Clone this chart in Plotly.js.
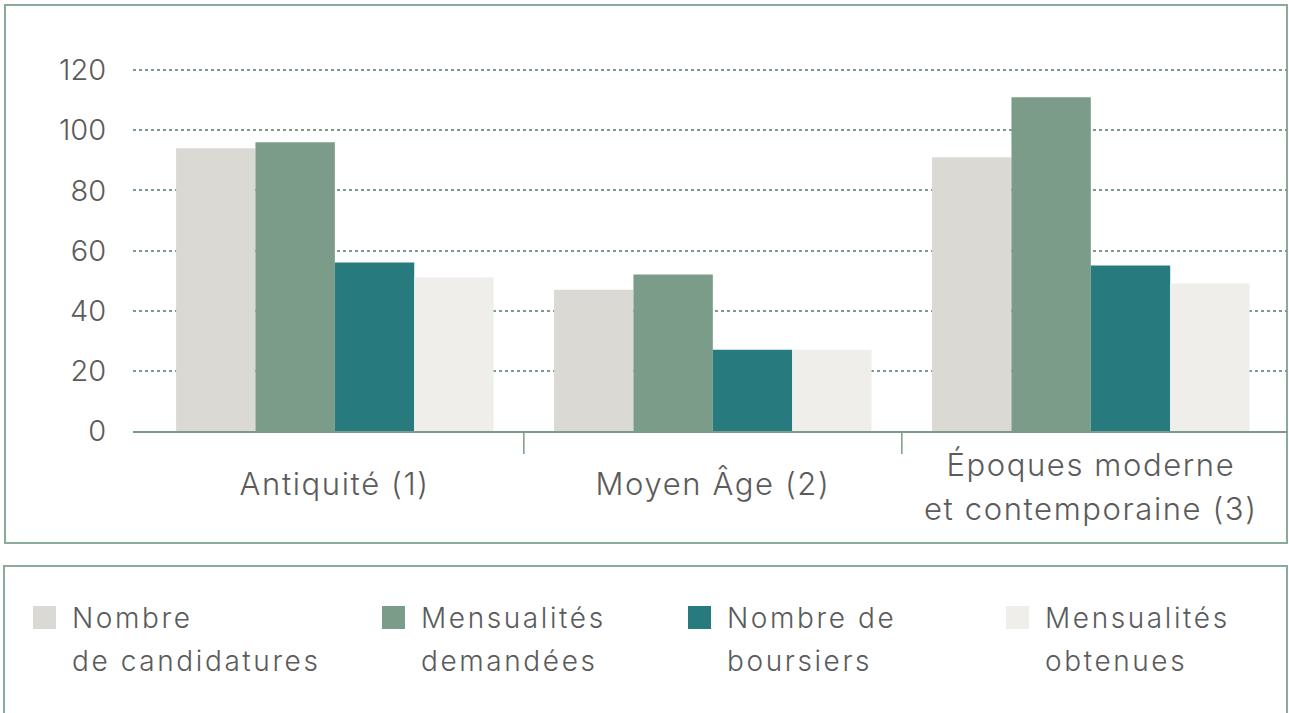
<!DOCTYPE html>
<html>
<head>
<meta charset="utf-8">
<script src="https://cdn.plot.ly/plotly-3.0.1.min.js"></script>
<style>
  html, body { margin: 0; padding: 0; background: #ffffff; }
  #chart { width: 1289px; height: 713px; }
  #chart g.annotation-text-g text { letter-spacing: 1.6px; }
</style>
</head>
<body>
<div id="chart"></div>
<script>
// ---- Data ----
const categories = ['Antiquité (1)', 'Moyen Âge (2)', 'Époques moderne et contemporaine (3)'];
const categoryLabels = ['Antiquité (1)', 'Moyen Âge (2)', 'Époques moderne<br>et contemporaine (3)'];
const seriesNames = [
  'Nombre<br>de candidatures',
  'Mensualités<br>demandées',
  'Nombre de<br>boursiers',
  'Mensualités<br>obtenues'
];
const candidatures = [94, 47, 91];
const mensualitesDemandees = [96, 52, 111];
const boursiers = [56, 27, 55];
const mensualitesObtenues = [51, 27, 49];
const yTicks = [0, 20, 40, 60, 80, 100, 120];

// ---- Styling ----
const colors = ['#dad9d4', '#7a9c88', '#277a7d', '#efeeea'];
const seriesValues = [candidatures, mensualitesDemandees, boursiers, mensualitesObtenues];
const legendIds = ['legend', 'legend2', 'legend3', 'legend4'];
const legendTextX = [72, 421, 727, 1045];
const textColor = '#5b5b5b';
const green = '#7a9c88';
const borderGreen = '#8aab98';
const FONT = 'Inter, "Open Sans", sans-serif';

// plot area in pixels: x 133..1287, y 40..431
const PL = 133, PR = 1287, PT = 40, PB = 431;
const px2paperX = p => (p - PL) / (PR - PL);
const px2paperY = p => (PB - p) / (PB - PT);

const traces = seriesValues.map((vals, i) => ({
  type: 'bar',
  x: categories,
  y: vals,
  name: seriesNames[i],
  marker: { color: colors[i], line: { width: 0 } },
  legend: legendIds[i],
  hoverinfo: 'skip'
}));

const layout = {
  width: 1289,
  height: 713,
  margin: { l: PL, r: 1289 - PR, t: PT, b: 713 - PB, pad: 0 },
  paper_bgcolor: '#ffffff',
  plot_bgcolor: 'rgba(0,0,0,0)',
  font: { family: FONT, color: textColor, size: 28, weight: 300 },
  barmode: 'group',
  bargap: 0.16,
  bargroupgap: 0,
  xaxis: {
    type: 'category',
    range: [-0.534, 2.519],
    showticklabels: false,
    showgrid: false,
    zeroline: false,
    showline: true,
    linecolor: green,
    linewidth: 1.5,
    ticks: '',
    fixedrange: true
  },
  yaxis: {
    range: [0, 130],
    tickvals: yTicks,
    ticktext: yTicks.map(String),
    tickfont: { family: FONT, size: 29, color: textColor, weight: 300 },
    ticks: 'outside',
    ticklen: 20,
    tickcolor: 'rgba(0,0,0,0)',
    showgrid: true,
    gridcolor: green,
    griddash: 'dot',
    gridwidth: 2,
    zeroline: false,
    showline: false,
    fixedrange: true
  },
  showlegend: true,
  shapes: [
    { type: 'rect', xref: 'paper', yref: 'paper',
      x0: px2paperX(5), x1: px2paperX(1287), y0: px2paperY(543), y1: px2paperY(5),
      line: { color: borderGreen, width: 2 }, fillcolor: 'rgba(0,0,0,0)', layer: 'below' },
    { type: 'rect', xref: 'paper', yref: 'paper',
      x0: px2paperX(4), x1: px2paperX(1287), y0: px2paperY(730), y1: px2paperY(566),
      line: { color: borderGreen, width: 2 }, fillcolor: 'rgba(0,0,0,0)', layer: 'below' },
    { type: 'line', xref: 'x', yref: 'paper', x0: 0.5, x1: 0.5, y0: 0, y1: px2paperY(454),
      line: { color: green, width: 1.5 } },
    { type: 'line', xref: 'x', yref: 'paper', x0: 1.5, x1: 1.5, y0: 0, y1: px2paperY(454),
      line: { color: green, width: 1.5 } }
  ],
  annotations: categories.map((c, i) => ({
    x: c, xref: 'x', y: px2paperY(i === 2 ? 484 : 483), yref: 'paper',
    text: categoryLabels[i], showarrow: false,
    xanchor: 'center', yanchor: 'middle', align: 'center',
    font: { family: FONT, size: 31, color: textColor, weight: 300 }
  }))
};

legendIds.forEach((id, i) => {
  layout[id] = {
    x: px2paperX(legendTextX[i] - 40), xanchor: 'left',
    y: px2paperY(592), yanchor: 'top',
    orientation: 'v',
    bgcolor: 'rgba(0,0,0,0)',
    borderwidth: 0,
    valign: 'top',
    font: { family: FONT, size: 28, color: textColor, weight: 300 },
    itemclick: false, itemdoubleclick: false
  };
});

Plotly.newPlot('chart', traces, layout, { displayModeBar: false, staticPlot: true }).then(gd => {
  // wider line spacing of the two-line category label
  gd.querySelectorAll('g.annotation-text-g text tspan.line').forEach(t => {
    const dy = t.getAttribute('dy');
    if (dy && parseFloat(dy) > 0) t.setAttribute('dy', '1.42em');
  });
  // legends: no clipping, tracking and line spacing as in the original, larger swatches
  gd.querySelectorAll('g.infolayer g.scrollbox, g.infolayer g[class^="legend"]').forEach(g => {
    g.removeAttribute('clip-path');
    g.style.clipPath = 'none';
  });
  gd.querySelectorAll('g.traces').forEach(tr => {
    const text = tr.querySelector('text');
    const path = tr.querySelector('g.legendpoints path');
    if (!text || !path) return;
    text.style.letterSpacing = '2.6px';
    text.querySelectorAll('tspan.line').forEach(t => {
      const dy = t.getAttribute('dy');
      if (dy && parseFloat(dy) > 0) t.setAttribute('dy', '1.54em');
    });
    path.removeAttribute('transform');
    const tb = text.getBoundingClientRect();
    const pb = path.getBoundingClientRect();
    const lb = path.getBBox();
    const size = 23;
    const targetCx = tb.left - 16 - size / 2;
    const targetCy = 606 + size / 2;
    const scx = pb.left + pb.width / 2, scy = pb.top + pb.height / 2;
    const bcx = lb.x + lb.width / 2, bcy = lb.y + lb.height / 2;
    const tx = bcx + (targetCx - scx), ty = bcy + (targetCy - scy);
    path.setAttribute('transform',
      `translate(${tx},${ty}) scale(${size / lb.width},${size / lb.height}) translate(${-bcx},${-bcy})`);
  });
});
</script>
</body>
</html>
